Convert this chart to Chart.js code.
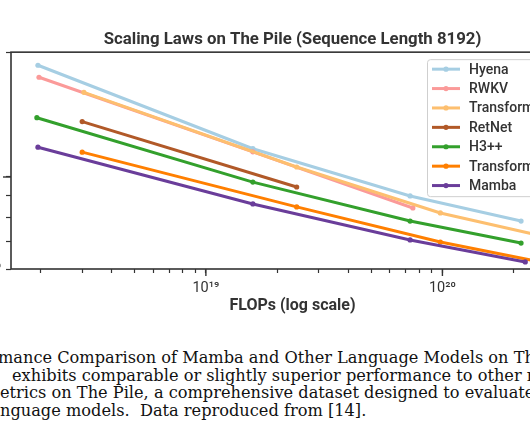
<!DOCTYPE html>
<html>
<head>
<meta charset="utf-8">
<script src="https://cdn.jsdelivr.net/npm/chart.js@4.4.0/dist/chart.umd.min.js"></script>
<style>
html, body { margin: 0; padding: 0; background: #fff; }
body { width: 530px; height: 442px; overflow: hidden; position: relative; }
#wrap { position: absolute; left: -50px; top: 0; width: 650px; height: 320px; }
#caption { position: absolute; left: 0; top: 349px; width: 530px; font-family: "DejaVu Serif", serif; font-size: 16.2px; line-height: 17.5px; color: #111; }
.cap { position: relative; white-space: nowrap; height: 17.5px; }
.cap span { position: absolute; top: 0; }
</style>
</head>
<body>
<div id="wrap"><canvas id="myChart" width="650" height="320"></canvas></div>
<div id="caption"></div>
<script>
// series names + colours (matplotlib "Paired")
const names = ['Hyena', 'RWKV', 'Transformer', 'RetNet', 'H3++', 'Transformer++', 'Mamba'];
const colors = ['#a6cee3', '#fb9a99', '#fdbf6f', '#b15928', '#33a02c', '#ff7f00', '#6a3d9a'];

// FLOPs / perplexity
const hyenaFlops = [1.95e18, 1.58e19, 7.3e19, 2.15e20];
const hyenaPpl = [18.6, 11.7, 9.0, 7.83];
const rwkvFlops = [1.97e18, 1.58e19, 7.5e19];
const rwkvPpl = [17.4, 11.5, 8.42];
const transFlops = [3.05e18, 2.42e19, 9.8e19, 2.87e20];
const transPpl = [16.0, 10.57, 8.19, 7.13];
const retnetFlops = [3.0e18, 2.42e19];
const retnetPpl = [13.6, 9.46];
const h3Flops = [1.93e18, 1.58e19, 7.3e19, 2.15e20];
const h3Ppl = [13.9, 9.72, 7.83, 6.93];
const tppFlops = [3.0e18, 2.42e19, 9.8e19, 2.87e20];
const tppPpl = [11.48, 8.47, 6.97, 6.17];
const mambaFlops = [1.95e18, 1.58e19, 7.3e19, 2.24e20];
const mambaPpl = [11.8, 8.61, 7.05, 6.24];

// axis ticks
const xTicks = [2e18, 3e18, 4e18, 5e18, 6e18, 7e18, 8e18, 9e18, 1e19, 2e19, 3e19, 4e19, 5e19, 6e19, 7e19, 8e19, 9e19, 1e20, 2e20, 3e20];
const xTickLabels = { 1e19: '10\u00b9\u2079', 1e20: '10\u00b2\u2070' };
const yTicks = [6, 7, 8, 9, 10, 20];
const yTickLabels = { 6: '6\u00d710\u2070', 10: '10\u00b9', 20: '2\u00d710\u00b9' };

const flops = [hyenaFlops, rwkvFlops, transFlops, retnetFlops, h3Flops, tppFlops, mambaFlops];
const ppl = [hyenaPpl, rwkvPpl, transPpl, retnetPpl, h3Ppl, tppPpl, mambaPpl];

const datasets = names.map((n, i) => ({
  label: n,
  data: flops[i].map((f, j) => ({ x: f, y: ppl[i][j] })),
  borderColor: colors[i],
  backgroundColor: colors[i],
  borderWidth: 3,
  pointRadius: 2.6,
  pointBorderWidth: 0,
  pointBackgroundColor: colors[i],
  tension: 0,
  order: -i
}));

// frame + longer major ticks
const frame = {
  id: 'frame',
  afterDraw(chart) {
    const { ctx, chartArea: a, scales } = chart;
    ctx.save();
    ctx.strokeStyle = '#333';
    ctx.lineWidth = 1.6;
    ctx.strokeRect(a.left, a.top, a.right - a.left, a.bottom - a.top);
    ctx.lineWidth = 1.4;
    [1e19, 1e20].forEach(v => {
      const x = scales.x.getPixelForValue(v);
      ctx.beginPath(); ctx.moveTo(x, a.bottom); ctx.lineTo(x, a.bottom + 7); ctx.stroke();
    });
    const y = scales.y.getPixelForValue(10);
    ctx.beginPath(); ctx.moveTo(a.left, y); ctx.lineTo(a.left - 8, y); ctx.stroke();
    ctx.restore();
  }
};

// legend box inside the plot, upper right
const boxLegend = {
  id: 'boxLegend',
  afterDraw(chart) {
    const { ctx, chartArea } = chart;
    const x0 = chartArea.right - 147, y0 = chartArea.top + 7, w = 141, h = 137;
    ctx.save();
    ctx.fillStyle = 'rgba(255,255,255,0.85)';
    ctx.strokeStyle = '#cfcfcf';
    ctx.lineWidth = 1;
    ctx.beginPath(); ctx.roundRect(x0 + 0.5, y0 + 0.5, w, h, 3); ctx.fill(); ctx.stroke();
    chart.data.datasets.forEach((ds, i) => {
      const y = y0 + 10 + i * 19.4;
      ctx.strokeStyle = ds.borderColor; ctx.lineWidth = 3;
      ctx.beginPath(); ctx.moveTo(x0 + 5, y); ctx.lineTo(x0 + 33, y); ctx.stroke();
      ctx.fillStyle = ds.borderColor;
      ctx.beginPath(); ctx.arc(x0 + 19, y, 2.6, 0, Math.PI * 2); ctx.fill();
      ctx.fillStyle = '#333';
      ctx.font = '500 14px Roboto';
      ctx.textBaseline = 'middle';
      ctx.fillText(ds.label, x0 + 42, y + 1);
    });
    ctx.restore();
  }
};

const ctx = document.getElementById('myChart');
const myChart = new Chart(ctx, {
  type: 'line',
  data: { datasets: datasets },
  options: {
    responsive: false,
    animation: false,
    layout: { padding: { left: 0, right: 26, top: 0, bottom: 0 } },
    plugins: {
      legend: { display: false },
      tooltip: { enabled: false },
      title: {
        display: true,
        fullSize: false,
        text: 'Scaling Laws on The Pile (Sequence Length 8192)',
        color: '#333',
        font: { family: 'Roboto', size: 16.8, weight: 'bold' },
        padding: { top: 29.5, bottom: 2.5 }
      }
    },
    scales: {
      x: {
        type: 'logarithmic',
        min: 1.5e18,
        max: 3.6e20,
        border: { display: false },
        grid: { drawOnChartArea: false, drawTicks: true, tickLength: 4, tickColor: '#333', tickWidth: 1.2 },
        afterBuildTicks: s => { s.ticks = xTicks.map(v => ({ value: v })); },
        afterFit: s => { s.height = 51; },
        ticks: {
          autoSkip: false, maxRotation: 0, padding: 7,
          color: '#333',
          font: { family: 'Roboto', size: 14.5 },
          callback: v => xTickLabels[v] || ''
        },
        title: {
          display: true, text: 'FLOPs (log scale)', color: '#333',
          font: { family: 'Roboto', size: 16, weight: 'bold' },
          padding: { top: 4, bottom: 4 }
        }
      },
      y: {
        type: 'logarithmic',
        min: 6,
        max: 20,
        border: { display: false },
        grid: { drawOnChartArea: false, drawTicks: true, tickLength: 5, tickColor: '#333', tickWidth: 1.2 },
        afterBuildTicks: s => { s.ticks = yTicks.map(v => ({ value: v })); },
        afterFit: s => { s.width = 61; },
        ticks: {
          autoSkip: false, padding: 5,
          color: '#333',
          font: { family: 'Roboto', size: 13 },
          callback: v => yTickLabels[v] || ''
        },
        title: {
          display: true, text: 'Perplexity (log scale)', color: '#333',
          font: { family: 'Roboto', size: 15, weight: 'bold' }
        }
      }
    }
  },
  plugins: [frame, boxLegend]
});

// caption lines: hidden prefix, visible text, x where visible text starts, x where prefix ends
const capLines = [
  ['Figure 4: Perfor', 'mance Comparison of Mamba and Other Language Models on The Pile.', -2, -2],
  ['The Pile. Mamba', 'exhibits comparable or slightly superior performance to other models across', 12, -2],
  ['perplexity m', 'etrics on The Pile, a comprehensive dataset designed to evaluate the performance of', 0, 0],
  ['la', 'nguage models.  Data reproduced from [14].', 0, 0]
];
const cap = document.getElementById('caption');
capLines.forEach(l => {
  const row = document.createElement('div');
  row.className = 'cap';
  const pre = document.createElement('span');
  pre.textContent = l[0];
  const rest = document.createElement('span');
  rest.textContent = l[1];
  rest.style.whiteSpace = 'pre';
  row.appendChild(pre); row.appendChild(rest);
  cap.appendChild(row);
  const pw = pre.getBoundingClientRect().width;
  pre.style.left = (l[3] - pw) + 'px';
  rest.style.left = l[2] + 'px';
});
</script>
</body>
</html>
